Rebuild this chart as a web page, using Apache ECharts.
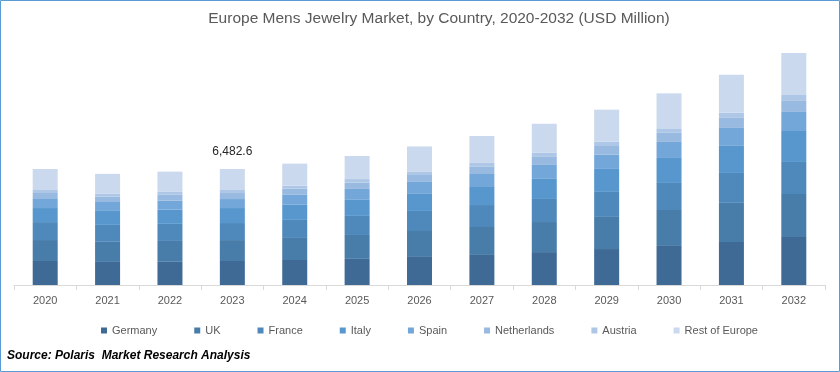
<!DOCTYPE html>
<html>
<head>
<meta charset="utf-8">
<script src="https://cdn.jsdelivr.net/npm/echarts@6/dist/echarts.min.js"></script>
<style>
html,body{margin:0;padding:0;background:#fff;}
#chart{width:840px;height:372px;}
</style>
</head>
<body>
<div id="chart"></div>
<script>
const years = ['2020','2021','2022','2023','2024','2025','2026','2027','2028','2029','2030','2031','2032'];
const seriesNames = ['Germany','UK','France','Italy','Spain','Netherlands','Austria','Rest of Europe'];
const germany     = [1342.5, 1290.3, 1296.8, 1342.5, 1398.6, 1460.2, 1568.4, 1680.7, 1838.9, 2009.6, 2183.2, 2405.7, 2687.3];
const uk          = [1170.4, 1121.8, 1165.2, 1168.2, 1231.5, 1335.8, 1449.7, 1561.3, 1680.2, 1795.6, 2008.4, 2183.9, 2398.7];
const france      = [1002.6, 948.3, 955.7, 952.1, 1008.4, 1066.2, 1120.5, 1226.8, 1290.1, 1398.3, 1512.6, 1672.9, 1791.4];
const italy       = [785.6, 779.2, 788.4, 838.4, 842.7, 896.3, 953.8, 1009.5, 1121.4, 1283.7, 1395.2, 1512.8, 1728.6];
const spain       = [505.1, 498.7, 503.6, 503.0, 558.2, 612.9, 668.4, 726.1, 780.5, 790.4, 896.7, 1002.3, 1065.8];
const netherlands = [335.2, 295.6, 329.8, 335.4, 341.2, 352.7, 385.9, 398.3, 446.1, 490.5, 508.2, 562.4, 615.3];
const austria     = [168.4, 160.2, 165.3, 168.7, 175.6, 195.8, 201.3, 218.7, 232.4, 240.6, 252.1, 285.4, 330.2];
const restOfEurope= [1172.8, 1118.2, 1129.5, 1174.3, 1225.7, 1290.4, 1395.6, 1508.2, 1622.9, 1790.3, 1953.7, 2128.6, 2346.5];
const labeledYear = '2023';

const colors = ['#3e6a95','#487ca9','#4f89bb','#5797cd','#74a7d9','#98b9e0','#afc7e6','#cbd9ef'];
const allData = [germany, uk, france, italy, spain, netherlands, austria, restOfEurope];
const totals = years.map((_, i) => allData.reduce((s, arr) => s + arr[i], 0));
const labelIdx = years.indexOf(labeledYear);

const chart = echarts.init(document.getElementById('chart'), null, {renderer:'canvas'});
const series = seriesNames.map((name, si) => ({
  name: name,
  type: 'bar',
  stack: 'total',
  barWidth: 25,
  data: allData[si],
  itemStyle: {color: colors[si]},
  emphasis: {disabled: true},
  label: si === seriesNames.length - 1 ? {
    show: true,
    position: 'top',
    distance: 11,
    color: '#262626',
    fontSize: 12,
    fontFamily: 'Liberation Sans, Arial, sans-serif',
    formatter: p => p.dataIndex === labelIdx ? totals[p.dataIndex].toLocaleString('en-US', {minimumFractionDigits:1, maximumFractionDigits:1}) : ''
  } : {show: false}
}));

chart.setOption({
  animation: false,
  backgroundColor: '#fff',
  grid: {left: 14, right: 15, top: 34.5, bottom: 87, containLabel: false},
  legend: {
    data: seriesNames,
    left: 96,
    top: 320,
    icon: 'rect',
    itemWidth: 6,
    itemHeight: 6,
    itemGap: 37,
    textStyle: {color: '#595959', fontSize: 11, fontFamily: 'Liberation Sans, Arial, sans-serif'}
  },
  xAxis: {
    type: 'category',
    data: years,
    axisLine: {lineStyle: {color: '#d9d9d9', width: 1}},
    axisTick: {show: true, alignWithLabel: false, length: 5, lineStyle: {color: '#d9d9d9'}},
    axisLabel: {color: '#595959', fontSize: 11, margin: 10, fontFamily: 'Liberation Sans, Arial, sans-serif'}
  },
  yAxis: {
    type: 'value',
    min: 0,
    max: 14000,
    show: false,
    splitLine: {show: false}
  },
  graphic: [
    {type: 'rect', shape: {x: 0.5, y: 0.5, width: 839, height: 371}, style: {fill: 'none', stroke: '#5b9bd5', lineWidth: 1}, silent: true},
    {type: 'text', x: 439, y: 19, style: {text: 'Europe Mens Jewelry Market, by Country, 2020-2032 (USD Million)', fill: '#595959', font: '15.5px "Liberation Sans", Arial, sans-serif', textAlign: 'center', textVerticalAlign: 'middle'}},
    {type: 'text', x: 7, y: 356, style: {text: 'Source: Polaris  Market Research Analysis', fill: '#000', font: 'italic bold 12px "Liberation Sans Narrow", "Liberation Sans", Arial, sans-serif', textAlign: 'left', textVerticalAlign: 'middle'}}
  ],
  series: series
});
</script>
</body>
</html>
